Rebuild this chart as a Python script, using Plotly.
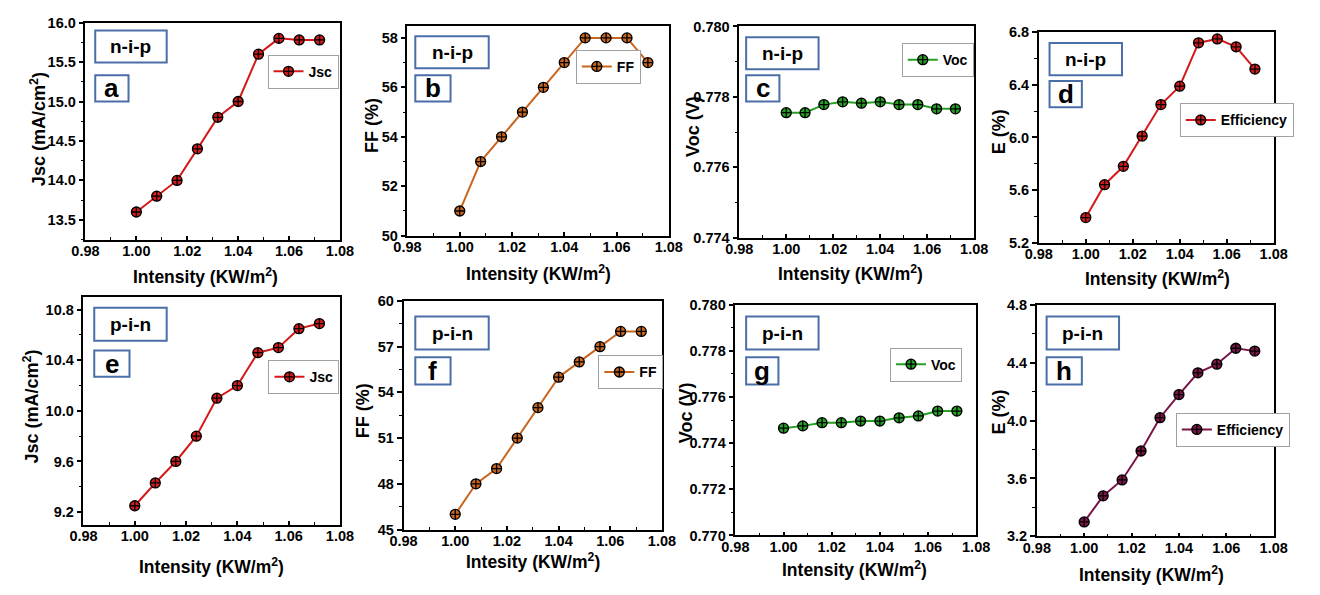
import plotly.graph_objects as go

# Light intensity (kW/m^2) shared by every panel
intensity = [1.000, 1.008, 1.016, 1.024, 1.032, 1.040, 1.048, 1.056, 1.064, 1.072]

# n-i-p device
jsc_nip = [13.60, 13.80, 14.00, 14.40, 14.80, 15.00, 15.60, 15.80, 15.78, 15.78]
ff_nip = [51, 53, 54, 55, 56, 57, 58, 58, 58, 57]
voc_nip = [0.77755, 0.77755, 0.77778, 0.77786, 0.77782, 0.77786, 0.77778, 0.77778, 0.77766, 0.77766]
eff_nip = [5.39, 5.64, 5.78, 6.01, 6.25, 6.39, 6.72, 6.75, 6.69, 6.52]

# p-i-n device
jsc_pin = [9.25, 9.43, 9.60, 9.80, 10.10, 10.20, 10.46, 10.50, 10.65, 10.69]
ff_pin = [46, 48, 49, 51, 53, 55, 56, 57, 58, 58]
voc_pin = [0.77465, 0.77475, 0.77489, 0.77489, 0.77496, 0.77496, 0.77510, 0.77518, 0.77539, 0.77539]
eff_pin = [3.30, 3.48, 3.59, 3.79, 4.02, 4.18, 4.33, 4.39, 4.50, 4.48]

W, H = 1320, 595
FONT = "Liberation Sans"
BOX_BLUE = "#4a6fa8"

RED = "#d41a1a"
BROWN = "#c8651f"
GREEN = "#24a024"
MAROON = "#7a1447"

# Layout of each panel in pixels: plot box, legend corner, label boxes and axis-title centres
panels = [
    dict(y=jsc_nip, name="Jsc", color=RED, ytitle="Jsc (mA/cm<sup>2</sup>)", yr=[13.25, 16.0], dt=0.5, t0=13.5, fmt=".1f",
         xtitle="Intensity (KW/m<sup>2</sup>)", dev="n-i-p", let="a",
         box=(73, 15, 333, 238), leg=(259, 59), devbox=(83, 23, 156, 56), letbox=(83, 69, 117, 96),
         xt=(196, 275), yt=(25, 124)),
    dict(y=ff_nip, name="FF", color=BROWN, ytitle="FF (%)", yr=[50, 58.5], dt=2, t0=50, fmt="d",
         xtitle="Intensity (KW/m<sup>2</sup>)", dev="n-i-p", let="b",
         box=(402, 18, 669, 234), leg=(574, 54), devbox=(410, 29, 485, 62), letbox=(410, 69, 446, 96),
         xt=(536, 272), yt=(365, 121)),
    dict(y=voc_nip, name="Voc", color=GREEN, ytitle="Voc (V)", yr=[0.774, 0.780], dt=0.002, t0=0.774, fmt=".3f",
         xtitle="Intensity (KW/m<sup>2</sup>)", dev="n-i-p", let="c",
         box=(741, 19, 981, 236), leg=(907, 47), devbox=(748, 30, 822, 63), letbox=(748, 69, 782, 96),
         xt=(855, 272), yt=(693, 122)),
    dict(y=eff_nip, name="Efficiency", color=RED, ytitle="E (%)", yr=[5.2, 6.8], dt=0.4, t0=5.2, fmt=".1f",
         xtitle="Intensity (KW/m<sup>2</sup>)", dev="n-i-p", let="d",
         box=(1047, 25, 1287, 241), leg=(1191, 109), devbox=(1058, 36, 1132, 69), letbox=(1058, 75, 1091, 102),
         xt=(1168, 277), yt=(1006, 127)),
    dict(y=jsc_pin, name="Jsc", color=RED, ytitle="Jsc (mA/cm<sup>2</sup>)", yr=[9.1, 10.9], dt=0.4, t0=9.2, fmt=".1f",
         xtitle="Intensity (KW/m<sup>2</sup>)", dev="p-i-n", let="e",
         box=(71, 297, 333, 531), leg=(260, 373), devbox=(82, 308, 156, 342), letbox=(82, 352, 118, 379),
         xt=(202, 573), yt=(18, 410)),
    dict(y=ff_pin, name="FF", color=BROWN, ytitle="FF (%)", yr=[45, 60], dt=3, t0=45, fmt="d",
         xtitle="Intesity (KW/m<sup>2</sup>)", dev="p-i-n", let="f",
         box=(398, 301, 662, 536), leg=(597, 368), devbox=(410, 317, 485, 351), letbox=(410, 359, 446, 387),
         xt=(530, 568), yt=(356, 414)),
    dict(y=voc_pin, name="Voc", color=GREEN, ytitle="Voc (V)", yr=[0.770, 0.780], dt=0.002, t0=0.770, fmt=".3f",
         xtitle="Intensity (KW/m<sup>2</sup>)", dev="p-i-n", let="g",
         box=(737, 305, 983, 542), leg=(895, 360), devbox=(748, 317, 822, 351), letbox=(748, 359, 781, 387),
         xt=(859, 577), yt=(686, 416)),
    dict(y=eff_pin, name="Efficiency", color=MAROON, ytitle="E (%)", yr=[3.2, 4.8], dt=0.4, t0=3.2, fmt=".1f",
         xtitle="Intensity (KW/m<sup>2</sup>)", dev="p-i-n", let="h",
         box=(1045, 305, 1287, 543), leg=(1187, 427), devbox=(1055, 317, 1129, 351), letbox=(1055, 359, 1091, 387),
         xt=(1162, 582), yt=(1006, 415)),
]

LEGEND_LIFT = 11  # plotly's legend box sits a little below its anchor

fig = go.Figure()
layout = dict(
    width=W, height=H,
    margin=dict(l=0, r=0, t=0, b=0),
    paper_bgcolor="white", plot_bgcolor="white",
    font=dict(family=FONT, color="black"),
    showlegend=True,
    shapes=[], annotations=[],
)


def px_x(x):
    return x / W


def px_y(y):
    return 1 - y / H


for i, p in enumerate(panels, start=1):
    xa = "x" if i == 1 else f"x{i}"
    ya = "y" if i == 1 else f"y{i}"
    leg = "legend" if i == 1 else f"legend{i}"
    x0, y0, x1, y1 = p["box"]

    fig.add_trace(go.Scatter(
        x=intensity, y=p["y"], mode="lines+markers", name=p["name"],
        xaxis=xa, yaxis=ya, legend=leg, showlegend=True,
        line=dict(color=p["color"], width=2),
        marker=dict(symbol="circle-cross", size=10, color=p["color"],
                    line=dict(color="black", width=1.3)),
    ))

    axis_common = dict(
        showline=True, linecolor="black", linewidth=1.5, mirror=True,
        showgrid=False, zeroline=False, tickwidth=1.5, tickcolor="black",
        tickfont=dict(family=FONT, size=14.5, color="black", weight="bold"),
    )
    layout["xaxis" if i == 1 else f"xaxis{i}"] = dict(
        axis_common, domain=[px_x(x0), px_x(x1)], anchor=ya,
        ticks="inside", ticklen=4, ticklabelstandoff=-3,
        range=[0.98, 1.08], tick0=0.98, dtick=0.02, tickformat=".2f",
        minor=dict(ticks="inside", ticklen=3, tickwidth=1.2, tickcolor="black", dtick=0.01, tick0=0.98),
    )
    layout["yaxis" if i == 1 else f"yaxis{i}"] = dict(
        axis_common, domain=[px_y(y1), px_y(y0)], anchor=xa,
        ticks="outside", ticklen=5,
        range=p["yr"], tick0=p["t0"], dtick=p["dt"], tickformat=p["fmt"],
        minor=dict(ticks="outside", ticklen=3, tickwidth=1.2, tickcolor="black", dtick=p["dt"] / 2, tick0=p["t0"]),
    )

    # axis titles
    tx, ty = p["xt"]
    layout["annotations"].append(dict(
        xref="paper", yref="paper", x=px_x(tx), y=px_y(ty), text=f"<b>{p['xtitle']}</b>",
        showarrow=False, xanchor="center", yanchor="middle",
        font=dict(family=FONT, size=17.5, color="black"),
    ))
    tx, ty = p["yt"]
    layout["annotations"].append(dict(
        xref="paper", yref="paper", x=px_x(tx), y=px_y(ty), text=f"<b>{p['ytitle']}</b>",
        showarrow=False, xanchor="center", yanchor="middle", textangle=-90,
        font=dict(family=FONT, size=18, color="black"),
    ))

    lx, ly = p["leg"]
    layout[leg] = dict(
        visible=True,
        x=px_x(lx), y=px_y(ly - LEGEND_LIFT), xanchor="left", yanchor="top",
        bgcolor="white", bordercolor="#a0a0a0", borderwidth=1,
        font=dict(family=FONT, size=14, color="black", weight="bold"),
        itemwidth=30, tracegroupgap=0,
    )

    # device label box and panel letter box
    for (bx0, by0, bx1, by1), txt, size in ((p["devbox"], p["dev"], 19), (p["letbox"], p["let"], 26)):
        layout["shapes"].append(dict(
            type="rect", xref="paper", yref="paper",
            x0=px_x(bx0), x1=px_x(bx1), y0=px_y(by1), y1=px_y(by0),
            line=dict(color=BOX_BLUE, width=2), fillcolor="rgba(0,0,0,0)",
        ))
        layout["annotations"].append(dict(
            xref="paper", yref="paper", x=px_x((bx0 + bx1) / 2), y=px_y((by0 + by1) / 2),
            text=f"<b>{txt}</b>", showarrow=False, xanchor="center", yanchor="middle",
            font=dict(family=FONT, size=size, color="black"),
        ))

fig.update_layout(**layout)
fig.write_html("out.html")
